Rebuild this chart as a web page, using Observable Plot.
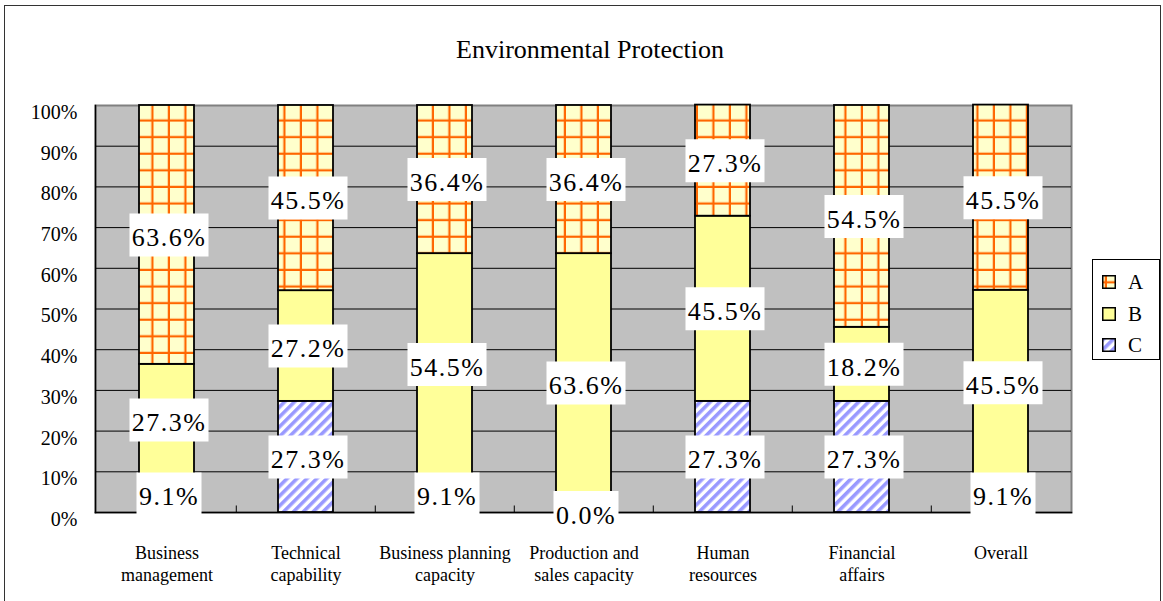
<!DOCTYPE html>
<html>
<head>
<meta charset="utf-8">
<script src="https://cdn.jsdelivr.net/npm/d3@7"></script>
<script src="https://cdn.jsdelivr.net/npm/@observablehq/plot@0.6"></script>
<style>
  body { margin: 0; background: #fff; font-family: "Liberation Serif", "DejaVu Serif", serif; }
  #page { position: relative; width: 1163px; height: 601px; overflow: hidden; }
  #border { position: absolute; left: 4px; top: 5px; width: 1157px; height: 610px; border: 1.5px solid #333; box-sizing: border-box; }
  #title { position: absolute; left: 0; width: 1180px; top: 35px; line-height: 30px; text-align: center; font-size: 26px; color: #000; }
  #chart { position: absolute; left: 0; top: 80px; }
  #chart svg, #chart svg text { font-family: "Liberation Serif", "DejaVu Serif", serif !important; }
  #legend { position: absolute; left: 1092px; top: 259px; width: 68px; height: 101px; border: 1px solid #000; box-sizing: border-box; background: #fff; }
  .item { position: absolute; left: 9px; height: 22px; display: flex; align-items: center; font-size: 21px; }
  .item svg { margin-right: 12px; }
  #defs { position: absolute; width: 0; height: 0; }
  #chart g[aria-label="text"] text { letter-spacing: 1.5px; }
</style>
</head>
<body>
<svg id="defs" width="0" height="0">
  <defs>
    <pattern id="patA" patternUnits="userSpaceOnUse" x="137" y="25" width="16.5" height="16.6">
      <rect width="16.5" height="16.6" fill="#FFFFCC"></rect>
      <rect x="14.3" y="0" width="2.4" height="16.6" fill="#FF6600"></rect>
      <rect x="0" y="14.4" width="16.5" height="2.4" fill="#FF6600"></rect>
    </pattern>
    <pattern id="patB" patternUnits="userSpaceOnUse" width="10" height="10">
      <rect width="10" height="10" fill="#FFFF99"></rect>
    </pattern>
    <pattern id="patC" patternUnits="userSpaceOnUse" width="7" height="7" patternTransform="rotate(45)">
      <rect width="7" height="7" fill="#FFFFFF"></rect>
      <rect x="0" y="0" width="3.6" height="7" fill="#9999FF"></rect>
    </pattern>
  </defs>
</svg>
<div id="page">
  <div id="border"></div>
  <div id="title">Environmental Protection</div>
  <div id="chart"></div>
  <div id="legend"></div>
</div>
<script>
// Categories along the x axis and the two-line labels under each bar
const categories = [
  "Business management", "Technical capability", "Business planning capacity",
  "Production and sales capacity", "Human resources", "Financial affairs", "Overall"
];
const tickLabels = [
  "Business\nmanagement", "Technical\ncapability", "Business planning\ncapacity",
  "Production and\nsales capacity", "Human\nresources", "Financial\naffairs", "Overall"
];

// Share of answers (%) per category, one array per series
const seriesA = [63.6, 45.5, 36.4, 36.4, 27.3, 54.5, 45.5];
const seriesB = [27.3, 27.2, 54.5, 63.6, 45.5, 18.2, 45.5];
const seriesC = [9.1, 27.3, 9.1, 0.0, 27.3, 27.3, 9.1];

const seriesNames = ["C", "B", "A"];           // stacking order, bottom to top
const legendNames = ["A", "B", "C"];
const yTicks = [0, 10, 20, 30, 40, 50, 60, 70, 80, 90, 100];

const seriesValues = {A: seriesA, B: seriesB, C: seriesC};
const fills = {A: "url(#patA)", B: "url(#patB)", C: "url(#patC)"};

// Stacked segments: each row keeps its lower and upper bound and midpoint
const rows = [];
categories.forEach((category, i) => {
  let base = 0;
  for (const s of seriesNames) {
    const value = seriesValues[s][i];
    rows.push({
      category, series: s, value,
      y1: base, y2: base + value, mid: base + value / 2,
      fill: fills[s], text: value.toFixed(1) + "%"
    });
    base += value;
  }
});

// Rectangular label background
const box = (w, h) => ({draw(ctx) { ctx.rect(-w / 2, -h / 2, w, h); }});

const marginLeft = 95, marginRight = 92;
const step = (1163 - marginLeft - marginRight) / categories.length;
const serif = "'Liberation Serif', 'DejaVu Serif', serif";

const chart = Plot.plot({
  width: 1163,
  height: 521,
  marginLeft,
  marginRight,
  marginTop: 25,
  marginBottom: 89,
  style: {fontFamily: serif, background: "transparent", color: "#000"},
  x: {domain: categories, paddingInner: 0.605, paddingOuter: 0.3025, axis: null, label: null},
  y: {domain: [0, 100], axis: null, label: null},
  color: {type: "identity"},
  marks: [
    Plot.frame({fill: "#C0C0C0", stroke: "#808080", strokeWidth: 2}),
    Plot.ruleY(yTicks.slice(1, -1), {stroke: "#000", strokeWidth: 1}),
    Plot.frame({anchor: "left", stroke: "#000", strokeWidth: 1.5}),
    Plot.frame({anchor: "bottom", stroke: "#000", strokeWidth: 1.5}),
    Plot.ruleX(categories.slice(1), {x: d => d, y1: 0, y2: 1.6, dx: -step / 2, stroke: "#000", strokeWidth: 1}),
    Plot.barY(rows, {x: "category", y1: "y1", y2: "y2", fill: "fill", stroke: "#000", strokeWidth: 1.8}),
    Plot.dot(rows, {filter: d => d.text.length > 4, x: "category", y: "mid", dx: 2, r: 1, symbol: box(79, 43), fill: "#fff", stroke: null}),
    Plot.dot(rows, {filter: d => d.text.length <= 4, x: "category", y: "mid", dx: 2, r: 1, symbol: box(65, 43), fill: "#fff", stroke: null}),
    Plot.text(rows, {x: "category", y: "mid", text: "text", dx: 2, dy: 3, fontSize: 26, fontFamily: serif, fill: "#000"}),
    Plot.axisY(yTicks, {tickFormat: d => d + "%", tickSize: 0, tickPadding: 18, fontSize: 20, fontFamily: serif, dy: 7, label: null}),
    Plot.axisX(categories, {tickFormat: d => tickLabels[categories.indexOf(d)], tickSize: 0, tickPadding: 32, fontSize: 18, fontFamily: serif, lineHeight: 1.17, label: null})
  ]
});
document.getElementById("chart").appendChild(chart);

// Legend
const legend = document.getElementById("legend");
const legendTops = [11, 43, 74];
legendNames.forEach((name, i) => {
  const item = document.createElement("div");
  item.className = "item";
  item.style.top = legendTops[i] + "px";
  item.innerHTML = `<svg width="14" height="14"><rect x="0.75" y="0.75" width="12.5" height="12.5" fill="${fills[name]}" stroke="#000" stroke-width="1.5"></rect></svg><span>${name}</span>`;
  legend.appendChild(item);
});
</script>
</body>
</html>
